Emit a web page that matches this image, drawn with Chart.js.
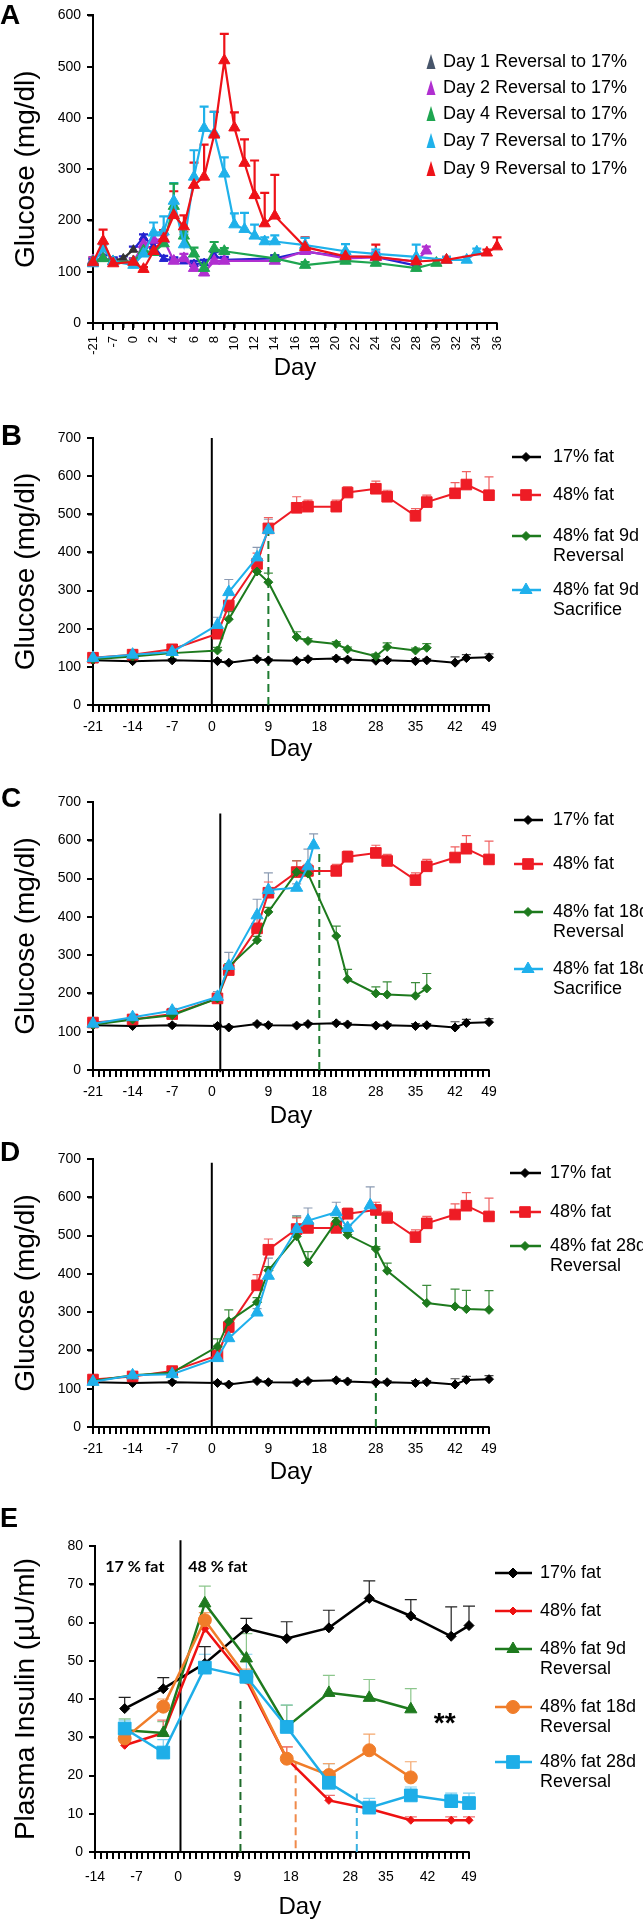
<!DOCTYPE html>
<html>
<head>
<meta charset="utf-8">
<title>Glucose and insulin after diet reversal</title>
<script src="https://cdn.jsdelivr.net/npm/chart.js@4.4.1/dist/chart.umd.min.js"></script>
<style>
  body { margin: 0; background: #fff; }
  #wrap { position: relative; width: 643px; height: 1921px; }
  #wrap canvas { position: absolute; left: 0; }
</style>
</head>
<body>
<div id="wrap">
  <canvas id="pA" width="643" height="390" style="top:0px"></canvas>
  <canvas id="pB" width="643" height="380" style="top:390px"></canvas>
  <canvas id="pC" width="643" height="370" style="top:770px"></canvas>
  <canvas id="pD" width="643" height="360" style="top:1140px"></canvas>
  <canvas id="pE" width="643" height="421" style="top:1500px"></canvas>
</div>
<script>
"use strict";

// ---- panel A: reversal day series (category axis, -3 slot has no label)
const aDays = [-21, -14, -7, -3, 0, 1, 2, 3, 4, 5, 6, 7, 8, 9, 10, 11, 12, 13, 14, 15, 16, 17, 18,
    19, 20, 21, 22, 23, 24, 25, 26, 27, 28, 29, 30, 31, 32, 33, 34, 35, 36];

const aDay9Days = [-21, -14, -7, 0, 1, 2, 3, 4, 5, 6, 7, 8, 9, 10, 11, 12, 13, 14, 17, 21, 24, 28, 31, 35, 36];
const aDay9 = [118, 160, 116, 119, 105, 140, 165, 210, 188, 269, 285, 367, 512, 381, 312, 249, 194, 209, 148, 130, 129, 120, 123, 137, 149];
const aDay9Err = [10, 22, 6, 6, 4, 8, 16, 47, 22, 44, 63, 45, 52, 30, 46, 68, 60, 80, 19, 8, 24, 6, 6, 6, 18];

const aDay7Days = [-21, -14, -7, 0, 1, 2, 3, 4, 5, 6, 7, 8, 9, 10, 11, 12, 13, 14, 17, 21, 24, 28, 31, 33, 34];
const aDay7 = [116, 145, 120, 113, 135, 176, 178, 238, 153, 285, 380, 370, 291, 192, 183, 170, 159, 159, 152, 140, 135, 129, 123, 123, 139];
const aDay7Err = [8, 8, 6, 6, 10, 20, 30, 35, 20, 52, 42, 42, 32, 22, 32, 22, 8, 12, 14, 14, 8, 24, 6, 6, 6];

const aDay4Days = [-21, -14, -7, 0, 1, 2, 3, 4, 5, 6, 7, 8, 9, 14, 17, 21, 24, 28, 30];
const aDay4 = [120, 126, 120, 120, 141, 138, 155, 228, 170, 135, 107, 145, 140, 126, 113, 121, 117, 107, 117];
const aDay4Err = [6, 6, 6, 6, 6, 6, 8, 44, 8, 12, 6, 13, 6, 6, 6, 6, 6, 6, 6];

const aDay2Days = [-21, -14, -7, 0, 1, 2, 3, 4, 5, 6, 7, 8, 9, 14, 17, 21, 24, 28, 29];
const aDay2 = [122, 127, 120, 120, 153, 162, 163, 121, 126, 107, 98, 121, 121, 121, 140, 126, 128, 120, 141];
const aDay2Err = [6, 6, 6, 6, 10, 10, 8, 6, 9, 6, 6, 6, 6, 6, 6, 6, 10, 6, 8];

const aDay1Days = [-21, -14, -7, -3, 0, 1, 2, 3, 4, 5, 6, 7, 8, 9, 14, 17, 21, 24, 28];
const aDay1 = [118, 125, 122, 126, 143, 167, 150, 125, 122, 120, 115, 117, 132, 123, 126, 139, 129, 129, 112];
const aDay1Err = [6, 8, 6, 4, 6, 6, 6, 6, 6, 6, 6, 6, 6, 6, 6, 6, 6, 6, 6];

// ---- panels B-D: glucose, shared control groups
const gluDays = [-21, -14, -7, 1, 3, 8, 10, 15, 17, 22, 24, 29, 31, 36, 38, 43, 45, 49];
const glu17 = [117, 115, 117, 115, 111, 120, 117, 116, 120, 122, 119, 116, 117, 115, 117, 111, 123, 125];
const glu17Err = [4, 4, 4, 4, 4, 4, 4, 4, 4, 4, 4, 4, 4, 6, 4, 15, 9, 9];
const glu48 = [124, 132, 146, 187, 261, 370, 463, 517, 520, 520, 557, 567, 546, 496, 532, 555, 578, 550];
const glu48Err = [6, 6, 6, 8, 10, 28, 28, 29, 17, 17, 15, 20, 17, 19, 18, 28, 34, 48];

const rev9Days = [-21, -14, -7, 1, 3, 8, 10, 15, 17, 22, 24, 29, 31, 36, 38];
const rev9 = [120, 127, 136, 143, 225, 350, 322, 178, 168, 160, 146, 128, 152, 143, 150];
const rev9Err = [4, 5, 5, 8, 20, 10, 24, 14, 6, 6, 6, 6, 11, 6, 11];
const sac9Days = [-21, -14, -7, 1, 3, 8, 10];
const sac9 = [123, 132, 139, 210, 296, 387, 459];
const sac9Err = [5, 6, 6, 20, 33, 26, 28];

const rev18Days = [-21, -14, -7, 1, 3, 8, 10, 15, 17, 22, 24, 29, 31, 36, 38];
const rev18 = [118, 132, 143, 187, 270, 339, 413, 517, 513, 350, 237, 200, 197, 194, 213];
const rev18Err = [4, 5, 5, 8, 8, 10, 12, 30, 6, 26, 26, 17, 33, 34, 39];
const sac18Days = [-21, -14, -7, 1, 3, 8, 10, 15, 17, 18];
const sac18 = [121, 138, 155, 191, 272, 404, 470, 476, 532, 587];
const sac18Err = [5, 6, 6, 14, 35, 42, 45, 10, 45, 30];

const rev28Days = [-21, -14, -7, 1, 3, 8, 10, 15, 17, 22, 24, 29, 31, 38, 43, 45, 49];
const rev28 = [120, 135, 142, 210, 276, 326, 409, 498, 430, 537, 502, 465, 408, 324, 315, 308, 306];
const rev28Err = [4, 5, 6, 20, 30, 12, 10, 50, 28, 10, 6, 6, 20, 46, 45, 49, 50];
const sac28Days = [-21, -14, -7, 1, 3, 8, 10, 15, 17, 22, 24, 28];
const sac28 = [118, 135, 138, 180, 232, 299, 395, 517, 539, 561, 520, 579];
const sac28Err = [4, 5, 6, 8, 8, 10, 46, 35, 33, 26, 6, 48];

const gluTickDays = [-21, -14, -7, 0, 10, 19, 29, 36, 43, 49];
const gluTickText = ['-21', '-14', '-7', '0', '9', '18', '28', '35', '42', '49'];

// ---- panel E: plasma insulin
const insDays = [-9, -2.5, 4.5, 11.5, 18.3, 25.4, 32.2, 39.2, 46, 49];
const ins17 = [37.5, 42.7, 49.3, 58.4, 55.8, 58.6, 66.3, 61.7, 56.4, 59.2];
const ins17Err = [2.9, 2.9, 4.4, 2.7, 4.4, 4.6, 4.6, 4.3, 7.7, 5.1];
const ins48 = [27.9, 31.1, 58.4, 44.9, 24.4, 13.5, 11.3, 8.3, 8.3, 8.3];
const ins48Err = [1.5, 3.4, 2.9, 2, 3.1, 1.3, 1, 0.9, 0.9, 0.9];
const insRevDays = [-9, -2.5, 4.5, 11.5, 18.3, 25.4, 32.2, 39.2];
const ins9d = [31.8, 31.1, 65, 50.6, 32.7, 41.6, 40.3, 37.3];
const ins9dErr = [3, 3, 4.5, 6.5, 5.7, 4.6, 4.8, 5.4];
const ins18d = [29.7, 38, 60.6, 45.8, 24.4, 20.1, 26.6, 19.5];
const ins18dErr = [2, 2, 2, 2, 3.1, 3, 4.2, 4.1];
const ins28d = [32.3, 26, 48.2, 45.8, 32.7, 18.1, 11.6, 14.8, 13.3, 12.8];
const ins28dErr = [2.2, 3.4, 3.5, 5.9, 5.7, 5, 2.4, 2.2, 2.1, 2.6];

const insTickDays = [-14, -7, 0, 10, 19, 29, 35, 42, 49];
const insTickText = ['-14', '-7', '0', '9', '18', '28', '35', '42', '49'];

// ---- styles
const FAM = "'Liberation Sans', Arial, Helvetica, sans-serif";
Chart.defaults.font.family = FAM;
Chart.defaults.font.size = 14;
Chart.defaults.color = '#000';

const A_RED = { color: '#ee1218', style: 'triangle', r: 6.5, width: 2.2, cap: 4.5, errW: 2.2 };
const A_BLUE = { color: '#1fb1ea', style: 'triangle', r: 6.5, width: 2.2, cap: 4.5, errW: 2.2 };
const A_GREEN = { color: '#1ea550', style: 'triangle', r: 6.5, width: 2.2, cap: 4.5, errW: 2.2 };
const A_PURPLE = { color: '#b02fd0', style: 'triangle', r: 6.5, width: 2.2, cap: 4.5, errW: 2.2 };
const A_NAVY = { color: '#2323d0', legendColor: '#47556a', style: 'triangle', r: 5, width: 2.2, cap: 4.5, errW: 2.2 };

const G_BLACK = { color: '#000', err: '#444', style: 'rectRot', r: 4.5, width: 2, cap: 4.5, errW: 1.2 };
const G_RED = { color: '#ee1c25', err: '#f06060', style: 'rect', r: 7.5, width: 2, cap: 4.5, errW: 1.2 };
const G_GREEN = { color: '#1d7a1d', err: '#3c8c3c', style: 'rectRot', r: 4.5, width: 2, cap: 4.5, errW: 1.2 };
const G_BLUE = { color: '#1fb0ec', err: '#8a9ab2', style: 'triangle', r: 7, width: 2, cap: 4.5, errW: 1.2 };
const G_BLUE_NOLEG = Object.assign({}, G_BLUE, { legend: false });

const E_BLACK = { color: '#000', err: '#222', style: 'rectRot', r: 5, width: 2.5, cap: 6, errW: 1.2 };
const E_RED = { color: '#ee1111', err: '#f07070', style: 'rectRot', r: 4, width: 2.5, cap: 6, errW: 1.2 };
const E_GREEN = { color: '#1e7a1e', err: '#8cc68c', style: 'triangle', r: 7, width: 2.5, cap: 6, errW: 1.2 };
const E_ORANGE = { color: '#f07d2a', err: '#f4a66c', style: 'circle', r: 6.5, width: 2.5, cap: 6, errW: 1.2 };
const E_BLUE = { color: '#1eaee8', err: '#7fd0f0', style: 'rect', r: 9, width: 2.5, cap: 6, errW: 1.2 };

function series(label, days, vals, errs, st, asText) {
    return {
        label: label,
        data: days.map(function (d, i) { return { x: asText ? String(d) : d, y: vals[i] }; }),
        errors: errs,
        errColor: st.err || st.color,
        errWidth: st.errW,
        errCap: st.cap,
        inLegend: st.legend !== false,
        legendColor: st.legendColor || st.color,
        borderColor: st.color,
        backgroundColor: st.color,
        pointBackgroundColor: st.color,
        pointBorderColor: st.color,
        pointStyle: st.style,
        pointRadius: st.r,
        pointBorderWidth: 1,
        borderWidth: st.width,
        tension: 0,
        clip: false
    };
}

// error bars, reference lines, tick marks, legend, letters, notes
const extras = {
    id: 'extras',
    beforeDatasetsDraw(chart, args, o) {
        const ctx = chart.ctx, xs = chart.scales.x, ys = chart.scales.y;
        ctx.save();
        (o.vlines || []).forEach(function (v) {
            const x = xs.getPixelForValue(v.x);
            ctx.beginPath();
            ctx.setLineDash(v.dash || []);
            ctx.strokeStyle = v.color;
            ctx.lineWidth = v.width || 2;
            ctx.moveTo(x, ys.getPixelForValue(v.from));
            ctx.lineTo(x, ys.getPixelForValue(v.to));
            ctx.stroke();
        });
        ctx.setLineDash([]);
        chart.data.datasets.forEach(function (ds, di) {
            const pts = chart.getDatasetMeta(di).data;
            ctx.strokeStyle = ds.errColor;
            ctx.lineWidth = ds.errWidth;
            pts.forEach(function (pt, i) {
                const e = ds.errors[i];
                if (!e) return;
                const top = ys.getPixelForValue(ds.data[i].y + e);
                ctx.beginPath();
                ctx.moveTo(pt.x, pt.y);
                ctx.lineTo(pt.x, top);
                ctx.moveTo(pt.x - ds.errCap, top);
                ctx.lineTo(pt.x + ds.errCap, top);
                ctx.stroke();
            });
        });
        ctx.restore();
    },
    afterDraw(chart, args, o) {
        const ctx = chart.ctx, xs = chart.scales.x, ys = chart.scales.y, lg = o.legend;
        const area = chart.chartArea;
        ctx.save();

        // tick marks on both axes, one per tick (x ticks from the day positions)
        ctx.fillStyle = '#000';
        const xTicks = o.tickDays || xs.ticks.map(function (t) { return t.value; });
        xTicks.forEach(function (v, i) {
            const x = Math.round(o.tickDays ? xs.getPixelForValue(v) : xs.getPixelForTick(i));
            ctx.fillRect(x - 1, area.bottom, 2, 7);
        });
        ys.ticks.forEach(function (t, i) {
            const y = Math.round(ys.getPixelForTick(i));
            ctx.fillRect(area.left - 6, y - 1, 6, 2);
        });

        ctx.textAlign = 'left';
        ctx.textBaseline = 'alphabetic';
        ctx.font = o.letterFont;
        ctx.fillText(o.letter, o.letterX, o.letterY);

        ctx.font = '18px ' + FAM;
        ctx.textBaseline = 'middle';
        const items = chart.data.datasets.filter(function (d) { return d.inLegend; }).reverse();
        items.forEach(function (ds, k) {
            const y = lg.rows[k];
            ctx.fillStyle = ds.legendColor;
            ctx.strokeStyle = ds.legendColor;
            if (lg.tall) {
                ctx.beginPath();
                ctx.moveTo(lg.mx, y - 8);
                ctx.lineTo(lg.mx + 4.5, y + 7);
                ctx.lineTo(lg.mx - 4.5, y + 7);
                ctx.closePath();
                ctx.fill();
            } else {
                ctx.lineWidth = 2.5;
                ctx.beginPath();
                ctx.moveTo(lg.x0, y);
                ctx.lineTo(lg.x1, y);
                ctx.stroke();
                ctx.lineWidth = 1;
                Chart.helpers.drawPoint(ctx, { pointStyle: ds.pointStyle, radius: ds.pointRadius, rotation: 0, borderWidth: 1 }, lg.mx, y);
            }
            ctx.fillStyle = '#000';
            ds.label.split('\n').forEach(function (t, j) { ctx.fillText(t, lg.tx, y + j * 20); });
        });

        (o.notes || []).forEach(function (n) {
            ctx.font = n.font;
            ctx.textAlign = 'center';
            ctx.fillStyle = '#000';
            ctx.fillText(n.text, xs.getPixelForValue(n.x), ys.getPixelForValue(n.y));
        });
        ctx.restore();
    }
};

function everyDay(min, max) {
    const out = [];
    for (let d = min; d <= max; d++) out.push(d);
    return out;
}

function yAxis(max, step, title, left) {
    return {
        min: 0,
        max: max,
        ticks: { stepSize: step, font: { size: 14 }, padding: 7 },
        grid: { drawOnChartArea: false, tickLength: 5, color: '#000', lineWidth: 1.5 },
        border: { color: '#000', width: 2 },
        title: { display: true, text: title, font: { size: 28 }, padding: { top: 9, bottom: 0 } },
        afterFit: function (s) { s.width = left; }
    };
}

function dayAxis(min, max, tickDays, tickText, labelPad, h, showTitle) {
    return {
        type: 'linear',
        min: min,
        max: max,
        afterBuildTicks: function (s) {
            s.ticks = tickDays.map(function (d) { return { value: d }; });
        },
        ticks: {
            autoSkip: false, maxRotation: 0, minRotation: 0, font: { size: 14 }, padding: labelPad,
            callback: function (v) {
                const i = tickDays.indexOf(v);
                return i < 0 ? '' : tickText[i];
            }
        },
        grid: { drawOnChartArea: false, tickLength: 5, color: '#000', lineWidth: 1.5 },
        border: { color: '#000', width: 2 },
        title: { display: showTitle !== false, text: 'Day', font: { size: 24 }, padding: 0 },
        afterFit: function (s) { s.height = h; }
    };
}

function makePanel(id, p) {
    const cv = document.getElementById(id);
    const W = cv.width, H = cv.height;
    return new Chart(cv.getContext('2d'), {
        type: 'line',
        data: { labels: p.labels, datasets: p.datasets },
        options: {
            responsive: false,
            animation: false,
            devicePixelRatio: 1,
            events: [],
            layout: {
                padding: { left: 0, top: p.area.top, right: W - p.area.right, bottom: H - p.area.bottom - p.xHeight }
            },
            plugins: { legend: { display: false }, tooltip: { enabled: false }, extras: p.extras },
            scales: { x: p.x, y: p.y }
        },
        plugins: [extras]
    });
}

// ---- A
const aNavy = series('Day 1 Reversal to 17%', aDay1Days, aDay1, aDay1Err, A_NAVY, true);
aNavy.segment = { borderColor: function (c) { return c.p1DataIndex <= 4 ? '#333' : undefined; } };
aNavy.pointBackgroundColor = function (c) { return c.dataIndex <= 4 ? '#333' : A_NAVY.color; };
aNavy.pointBorderColor = aNavy.pointBackgroundColor;

makePanel('pA', {
    labels: aDays.map(String),
    area: { left: 93, top: 6, right: 497, bottom: 323 },
    xHeight: 60,
    datasets: [
        series('Day 9 Reversal to 17%', aDay9Days, aDay9, aDay9Err, A_RED, true),
        series('Day 7 Reversal to 17%', aDay7Days, aDay7, aDay7Err, A_BLUE, true),
        series('Day 4 Reversal to 17%', aDay4Days, aDay4, aDay4Err, A_GREEN, true),
        series('Day 2 Reversal to 17%', aDay2Days, aDay2, aDay2Err, A_PURPLE, true),
        aNavy
    ],
    x: {
        type: 'category',
        offset: false,
        ticks: {
            autoSkip: false, minRotation: 90, maxRotation: 90, font: { size: 13 }, padding: 8,
            callback: function (v, i) { return i % 2 === 0 ? this.getLabelForValue(v) : ''; }
        },
        grid: { offset: false, drawOnChartArea: false, tickLength: 5, color: '#000', lineWidth: 1.5 },
        border: { color: '#000', width: 2 },
        title: { display: true, text: 'Day', font: { size: 24 }, padding: 0 },
        afterFit: function (s) { s.height = 60; }
    },
    y: yAxis(600, 100, 'Glucose (mg/dl)', 93),
    extras: {
        letter: 'A', letterX: 0, letterY: 24, letterFont: 'bold 28px ' + FAM,
        legend: { tall: true, mx: 431, tx: 443, rows: [62, 88, 114, 141, 169] }
    }
});

// ---- B
makePanel('pB', {
    area: { left: 93, top: 48, right: 489, bottom: 315 },
    xHeight: 59,
    datasets: [
        series('48% fat 9d\nSacrifice', sac9Days, sac9, sac9Err, G_BLUE),
        series('48% fat 9d\nReversal', rev9Days, rev9, rev9Err, G_GREEN),
        series('48% fat', gluDays, glu48, glu48Err, G_RED),
        series('17% fat', gluDays, glu17, glu17Err, G_BLACK)
    ],
    x: dayAxis(-21, 49, gluTickDays, gluTickText, 9, 59),
    y: yAxis(700, 100, 'Glucose (mg/dl)', 93),
    extras: {
        letter: 'B', letterX: 1, letterY: 55, letterFont: 'bold 29px ' + FAM,
        tickDays: everyDay(-21, 49),
        vlines: [
            { x: 0, from: 0, to: 700, color: '#000', width: 2 },
            { x: 10, from: 0, to: 450, color: '#1e7b30', width: 2, dash: [8, 5] }
        ],
        legend: { mx: 526, x0: 512, x1: 541, tx: 553, rows: [67, 105, 146, 200] }
    }
});

// ---- C
makePanel('pC', {
    area: { left: 93, top: 32, right: 489, bottom: 300 },
    xHeight: 61,
    datasets: [
        series('48% fat 18d\nSacrifice', sac18Days, sac18, sac18Err, G_BLUE),
        series('48% fat 18d\nReversal', rev18Days, rev18, rev18Err, G_GREEN),
        series('48% fat', gluDays, glu48, glu48Err, G_RED),
        series('17% fat', gluDays, glu17, glu17Err, G_BLACK)
    ],
    x: dayAxis(-21, 49, gluTickDays, gluTickText, 9, 61),
    y: yAxis(700, 100, 'Glucose (mg/dl)', 93),
    extras: {
        letter: 'C', letterX: 1, letterY: 37, letterFont: 'bold 28px ' + FAM,
        tickDays: everyDay(-21, 49),
        vlines: [
            { x: 1.5, from: -6, to: 670, color: '#000', width: 2 },
            { x: 19, from: 0, to: 576, color: '#1e7b30', width: 2, dash: [8, 5] }
        ],
        legend: { mx: 528, x0: 514, x1: 543, tx: 553, rows: [50, 94, 142, 199] }
    }
});

// ---- D
makePanel('pD', {
    area: { left: 93, top: 19, right: 489, bottom: 287 },
    xHeight: 60,
    datasets: [
        series('48% fat 28d\nSacrifice', sac28Days, sac28, sac28Err, G_BLUE_NOLEG),
        series('48% fat 28d\nReversal', rev28Days, rev28, rev28Err, G_GREEN),
        series('48% fat', gluDays, glu48, glu48Err, G_RED),
        series('17% fat', gluDays, glu17, glu17Err, G_BLACK)
    ],
    x: dayAxis(-21, 49, gluTickDays, gluTickText, 9, 60),
    y: yAxis(700, 100, 'Glucose (mg/dl)', 93),
    extras: {
        letter: 'D', letterX: 0, letterY: 21, letterFont: 'bold 28px ' + FAM,
        tickDays: everyDay(-21, 49),
        vlines: [
            { x: 0, from: 0, to: 690, color: '#000', width: 2 },
            { x: 29, from: 0, to: 563, color: '#1e7b30', width: 2, dash: [8, 5] }
        ],
        legend: { mx: 525, x0: 510, x1: 541, tx: 550, rows: [33, 72, 106] }
    }
});

// ---- E (its "Day" title sits right of centre, so it is drawn as a note)
makePanel('pE', {
    area: { left: 95, top: 46, right: 469, bottom: 352 },
    xHeight: 69,
    datasets: [
        series('48% fat 28d\nReversal', insDays, ins28d, ins28dErr, E_BLUE),
        series('48% fat 18d\nReversal', insRevDays, ins18d, ins18dErr, E_ORANGE),
        series('48% fat 9d\nReversal', insRevDays, ins9d, ins9dErr, E_GREEN),
        series('48% fat', insDays, ins48, ins48Err, E_RED),
        series('17% fat', insDays, ins17, ins17Err, E_BLACK)
    ],
    x: dayAxis(-14, 49, insTickDays, insTickText, 12, 69, false),
    y: yAxis(80, 10, 'Plasma Insulin (\u00b5U/ml)', 95),
    extras: {
        letter: 'E', letterX: 0, letterY: 27, letterFont: 'bold 27px ' + FAM,
        tickDays: everyDay(-14, 49),
        vlines: [
            { x: 0.4, from: 0, to: 81.5, color: '#000', width: 2 },
            { x: 10.5, from: 0, to: 40, color: '#1e6b2a', width: 2, dash: [8, 5] },
            { x: 19.8, from: 1, to: 24.5, color: '#f08a4a', width: 2, dash: [8, 5] },
            { x: 30.1, from: 0, to: 15.3, color: '#38b0e0', width: 2, dash: [8, 5] }
        ],
        legend: { mx: 513, x0: 495, x1: 532, tx: 540, rows: [73, 111, 149, 207, 262] },
        notes: [
            { text: '17 % fat', x: -7.3, y: 74.5, font: 'bold 16px Lato, ' + FAM },
            { text: '48 % fat', x: 6.7, y: 74.5, font: 'bold 16px Lato, ' + FAM },
            { text: '**', x: 44.9, y: 33.5, font: 'bold 28px ' + FAM },
            { text: 'Day', x: 20.5, y: -14.4, font: '24px ' + FAM }
        ]
    }
});
</script>
</body>
</html>
